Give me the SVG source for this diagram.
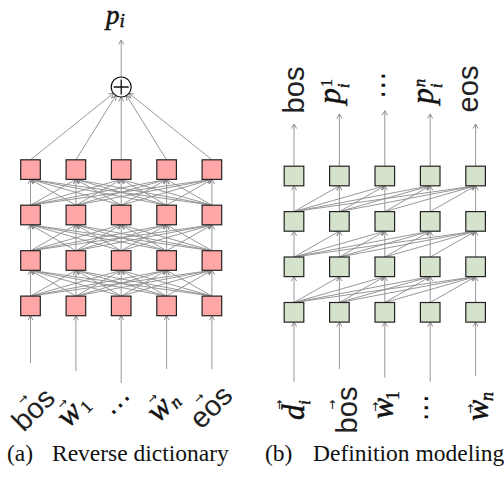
<svg xmlns="http://www.w3.org/2000/svg" width="504" height="481" viewBox="0 0 504 481">
<style>
.c{stroke:#8c8c8c;stroke-width:0.9;fill:none;marker-end:url(#ah)}
.bl{fill:#FFA6A6;stroke:#222;stroke-width:1.2}
.bg{fill:#D6E3CC;stroke:#222;stroke-width:1.2}
.sf{font-family:"Liberation Sans",Arial,sans-serif;fill:#222}
.mi{font-family:"Liberation Serif","Times New Roman",serif;font-style:italic;fill:#111;stroke:#111;stroke-width:0.5}
.mr{font-family:"Liberation Serif","Times New Roman",serif;fill:#111;stroke:#111;stroke-width:0.3}
.va{font-family:"DejaVu Sans",sans-serif;font-size:12px;fill:#111;text-anchor:middle}
.dt{font-family:"DejaVu Sans",sans-serif;font-size:28px;fill:#111;text-anchor:middle}
.cap{font-family:"Liberation Serif","Times New Roman",serif;font-size:23.5px;fill:#111}
</style>
<defs>
<marker id="ah" viewBox="-6 -4 7 8" refX="0" refY="0" markerWidth="7" markerHeight="8" orient="auto" markerUnits="userSpaceOnUse">
<path d="M-4.5,-2.6 L0,0 L-4.5,2.6" fill="none" stroke="#8c8c8c" stroke-width="1"/>
</marker>
</defs>

<g id="connectors">
<line class="c" x1="121.2" y1="77" x2="121.2" y2="40"/>
<line class="c" x1="30.5" y1="159.8" x2="113.4" y2="93.3"/>
<line class="c" x1="75.9" y1="159.8" x2="115.9" y2="95.5"/>
<line class="c" x1="121.2" y1="159.8" x2="121.2" y2="97"/>
<line class="c" x1="166.6" y1="159.8" x2="126.5" y2="95.5"/>
<line class="c" x1="211.9" y1="159.8" x2="129" y2="93.3"/>
<line class="c" x1="30.5" y1="296.1" x2="30.5" y2="270.3"/><line class="c" x1="30.5" y1="296.1" x2="75.9" y2="270.3"/><line class="c" x1="30.5" y1="296.1" x2="121.2" y2="270.3"/><line class="c" x1="30.5" y1="296.1" x2="166.6" y2="270.3"/><line class="c" x1="30.5" y1="296.1" x2="211.9" y2="270.3"/>
<line class="c" x1="75.9" y1="296.1" x2="30.5" y2="270.3"/><line class="c" x1="75.9" y1="296.1" x2="75.9" y2="270.3"/><line class="c" x1="75.9" y1="296.1" x2="121.2" y2="270.3"/><line class="c" x1="75.9" y1="296.1" x2="166.6" y2="270.3"/><line class="c" x1="75.9" y1="296.1" x2="211.9" y2="270.3"/>
<line class="c" x1="121.2" y1="296.1" x2="30.5" y2="270.3"/><line class="c" x1="121.2" y1="296.1" x2="75.9" y2="270.3"/><line class="c" x1="121.2" y1="296.1" x2="121.2" y2="270.3"/><line class="c" x1="121.2" y1="296.1" x2="166.6" y2="270.3"/><line class="c" x1="121.2" y1="296.1" x2="211.9" y2="270.3"/>
<line class="c" x1="166.6" y1="296.1" x2="30.5" y2="270.3"/><line class="c" x1="166.6" y1="296.1" x2="75.9" y2="270.3"/><line class="c" x1="166.6" y1="296.1" x2="121.2" y2="270.3"/><line class="c" x1="166.6" y1="296.1" x2="166.6" y2="270.3"/><line class="c" x1="166.6" y1="296.1" x2="211.9" y2="270.3"/>
<line class="c" x1="211.9" y1="296.1" x2="30.5" y2="270.3"/><line class="c" x1="211.9" y1="296.1" x2="75.9" y2="270.3"/><line class="c" x1="211.9" y1="296.1" x2="121.2" y2="270.3"/><line class="c" x1="211.9" y1="296.1" x2="166.6" y2="270.3"/><line class="c" x1="211.9" y1="296.1" x2="211.9" y2="270.3"/>
<line class="c" x1="30.5" y1="250.7" x2="30.5" y2="224.8"/><line class="c" x1="30.5" y1="250.7" x2="75.9" y2="224.8"/><line class="c" x1="30.5" y1="250.7" x2="121.2" y2="224.8"/><line class="c" x1="30.5" y1="250.7" x2="166.6" y2="224.8"/><line class="c" x1="30.5" y1="250.7" x2="211.9" y2="224.8"/>
<line class="c" x1="75.9" y1="250.7" x2="30.5" y2="224.8"/><line class="c" x1="75.9" y1="250.7" x2="75.9" y2="224.8"/><line class="c" x1="75.9" y1="250.7" x2="121.2" y2="224.8"/><line class="c" x1="75.9" y1="250.7" x2="166.6" y2="224.8"/><line class="c" x1="75.9" y1="250.7" x2="211.9" y2="224.8"/>
<line class="c" x1="121.2" y1="250.7" x2="30.5" y2="224.8"/><line class="c" x1="121.2" y1="250.7" x2="75.9" y2="224.8"/><line class="c" x1="121.2" y1="250.7" x2="121.2" y2="224.8"/><line class="c" x1="121.2" y1="250.7" x2="166.6" y2="224.8"/><line class="c" x1="121.2" y1="250.7" x2="211.9" y2="224.8"/>
<line class="c" x1="166.6" y1="250.7" x2="30.5" y2="224.8"/><line class="c" x1="166.6" y1="250.7" x2="75.9" y2="224.8"/><line class="c" x1="166.6" y1="250.7" x2="121.2" y2="224.8"/><line class="c" x1="166.6" y1="250.7" x2="166.6" y2="224.8"/><line class="c" x1="166.6" y1="250.7" x2="211.9" y2="224.8"/>
<line class="c" x1="211.9" y1="250.7" x2="30.5" y2="224.8"/><line class="c" x1="211.9" y1="250.7" x2="75.9" y2="224.8"/><line class="c" x1="211.9" y1="250.7" x2="121.2" y2="224.8"/><line class="c" x1="211.9" y1="250.7" x2="166.6" y2="224.8"/><line class="c" x1="211.9" y1="250.7" x2="211.9" y2="224.8"/>
<line class="c" x1="30.5" y1="205.2" x2="30.5" y2="179.4"/><line class="c" x1="30.5" y1="205.2" x2="75.9" y2="179.4"/><line class="c" x1="30.5" y1="205.2" x2="121.2" y2="179.4"/><line class="c" x1="30.5" y1="205.2" x2="166.6" y2="179.4"/><line class="c" x1="30.5" y1="205.2" x2="211.9" y2="179.4"/>
<line class="c" x1="75.9" y1="205.2" x2="30.5" y2="179.4"/><line class="c" x1="75.9" y1="205.2" x2="75.9" y2="179.4"/><line class="c" x1="75.9" y1="205.2" x2="121.2" y2="179.4"/><line class="c" x1="75.9" y1="205.2" x2="166.6" y2="179.4"/><line class="c" x1="75.9" y1="205.2" x2="211.9" y2="179.4"/>
<line class="c" x1="121.2" y1="205.2" x2="30.5" y2="179.4"/><line class="c" x1="121.2" y1="205.2" x2="75.9" y2="179.4"/><line class="c" x1="121.2" y1="205.2" x2="121.2" y2="179.4"/><line class="c" x1="121.2" y1="205.2" x2="166.6" y2="179.4"/><line class="c" x1="121.2" y1="205.2" x2="211.9" y2="179.4"/>
<line class="c" x1="166.6" y1="205.2" x2="30.5" y2="179.4"/><line class="c" x1="166.6" y1="205.2" x2="75.9" y2="179.4"/><line class="c" x1="166.6" y1="205.2" x2="121.2" y2="179.4"/><line class="c" x1="166.6" y1="205.2" x2="166.6" y2="179.4"/><line class="c" x1="166.6" y1="205.2" x2="211.9" y2="179.4"/>
<line class="c" x1="211.9" y1="205.2" x2="30.5" y2="179.4"/><line class="c" x1="211.9" y1="205.2" x2="75.9" y2="179.4"/><line class="c" x1="211.9" y1="205.2" x2="121.2" y2="179.4"/><line class="c" x1="211.9" y1="205.2" x2="166.6" y2="179.4"/><line class="c" x1="211.9" y1="205.2" x2="211.9" y2="179.4"/>
<line class="c" x1="30.5" y1="363" x2="30.5" y2="315.7"/>
<line class="c" x1="75.9" y1="371" x2="75.9" y2="315.7"/>
<line class="c" x1="121.2" y1="383" x2="121.2" y2="315.7"/>
<line class="c" x1="166.6" y1="369" x2="166.6" y2="315.7"/>
<line class="c" x1="211.9" y1="369" x2="211.9" y2="315.7"/>

<line class="c" x1="294" y1="166.2" x2="294" y2="124"/>
<line class="c" x1="339.4" y1="166.2" x2="339.4" y2="114"/>
<line class="c" x1="384.8" y1="166.2" x2="384.8" y2="110.7"/>
<line class="c" x1="430.2" y1="166.2" x2="430.2" y2="114"/>
<line class="c" x1="475.6" y1="166.2" x2="475.6" y2="124"/>
<line class="c" x1="294" y1="302.5" x2="294" y2="276.6"/><line class="c" x1="294" y1="302.5" x2="339.4" y2="276.6"/><line class="c" x1="294" y1="302.5" x2="384.8" y2="276.6"/><line class="c" x1="294" y1="302.5" x2="430.2" y2="276.6"/><line class="c" x1="294" y1="302.5" x2="475.6" y2="276.6"/>
<line class="c" x1="339.4" y1="302.5" x2="339.4" y2="276.6"/><line class="c" x1="339.4" y1="302.5" x2="384.8" y2="276.6"/><line class="c" x1="339.4" y1="302.5" x2="430.2" y2="276.6"/><line class="c" x1="339.4" y1="302.5" x2="475.6" y2="276.6"/>
<line class="c" x1="384.8" y1="302.5" x2="384.8" y2="276.6"/><line class="c" x1="384.8" y1="302.5" x2="430.2" y2="276.6"/><line class="c" x1="384.8" y1="302.5" x2="475.6" y2="276.6"/>
<line class="c" x1="430.2" y1="302.5" x2="430.2" y2="276.6"/><line class="c" x1="430.2" y1="302.5" x2="475.6" y2="276.6"/>
<line class="c" x1="475.6" y1="302.5" x2="475.6" y2="276.6"/>
<line class="c" x1="294" y1="257" x2="294" y2="231.2"/><line class="c" x1="294" y1="257" x2="339.4" y2="231.2"/><line class="c" x1="294" y1="257" x2="384.8" y2="231.2"/><line class="c" x1="294" y1="257" x2="430.2" y2="231.2"/><line class="c" x1="294" y1="257" x2="475.6" y2="231.2"/>
<line class="c" x1="339.4" y1="257" x2="339.4" y2="231.2"/><line class="c" x1="339.4" y1="257" x2="384.8" y2="231.2"/><line class="c" x1="339.4" y1="257" x2="430.2" y2="231.2"/><line class="c" x1="339.4" y1="257" x2="475.6" y2="231.2"/>
<line class="c" x1="384.8" y1="257" x2="384.8" y2="231.2"/><line class="c" x1="384.8" y1="257" x2="430.2" y2="231.2"/><line class="c" x1="384.8" y1="257" x2="475.6" y2="231.2"/>
<line class="c" x1="430.2" y1="257" x2="430.2" y2="231.2"/><line class="c" x1="430.2" y1="257" x2="475.6" y2="231.2"/>
<line class="c" x1="475.6" y1="257" x2="475.6" y2="231.2"/>
<line class="c" x1="294" y1="211.6" x2="294" y2="185.8"/><line class="c" x1="294" y1="211.6" x2="339.4" y2="185.8"/><line class="c" x1="294" y1="211.6" x2="384.8" y2="185.8"/><line class="c" x1="294" y1="211.6" x2="430.2" y2="185.8"/><line class="c" x1="294" y1="211.6" x2="475.6" y2="185.8"/>
<line class="c" x1="339.4" y1="211.6" x2="339.4" y2="185.8"/><line class="c" x1="339.4" y1="211.6" x2="384.8" y2="185.8"/><line class="c" x1="339.4" y1="211.6" x2="430.2" y2="185.8"/><line class="c" x1="339.4" y1="211.6" x2="475.6" y2="185.8"/>
<line class="c" x1="384.8" y1="211.6" x2="384.8" y2="185.8"/><line class="c" x1="384.8" y1="211.6" x2="430.2" y2="185.8"/><line class="c" x1="384.8" y1="211.6" x2="475.6" y2="185.8"/>
<line class="c" x1="430.2" y1="211.6" x2="430.2" y2="185.8"/><line class="c" x1="430.2" y1="211.6" x2="475.6" y2="185.8"/>
<line class="c" x1="475.6" y1="211.6" x2="475.6" y2="185.8"/>
<line class="c" x1="294" y1="381.7" x2="294" y2="322.1"/>
<line class="c" x1="339.4" y1="369" x2="339.4" y2="322.1"/>
<line class="c" x1="384.8" y1="377.7" x2="384.8" y2="322.1"/>
<line class="c" x1="430.2" y1="381.7" x2="430.2" y2="322.1"/>
<line class="c" x1="475.6" y1="375.7" x2="475.6" y2="322.1"/>
</g>

<g id="sum">
<circle cx="121.2" cy="87" r="10" fill="#fff" stroke="#111" stroke-width="1.2"/>
<path d="M113.7,87 H128.7 M121.2,79.5 V94.5" stroke="#111" stroke-width="1.3" fill="none"/>
</g>
<g id="L3-1"><rect class="bl" x="20.7" y="159.8" width="19.6" height="19.6"/></g>
<g id="L3-2"><rect class="bl" x="66.1" y="159.8" width="19.6" height="19.6"/></g>
<g id="L3-3"><rect class="bl" x="111.4" y="159.8" width="19.6" height="19.6"/></g>
<g id="L3-4"><rect class="bl" x="156.8" y="159.8" width="19.6" height="19.6"/></g>
<g id="L3-5"><rect class="bl" x="202.1" y="159.8" width="19.6" height="19.6"/></g>
<g id="L2-1"><rect class="bl" x="20.7" y="205.2" width="19.6" height="19.6"/></g>
<g id="L2-2"><rect class="bl" x="66.1" y="205.2" width="19.6" height="19.6"/></g>
<g id="L2-3"><rect class="bl" x="111.4" y="205.2" width="19.6" height="19.6"/></g>
<g id="L2-4"><rect class="bl" x="156.8" y="205.2" width="19.6" height="19.6"/></g>
<g id="L2-5"><rect class="bl" x="202.1" y="205.2" width="19.6" height="19.6"/></g>
<g id="L1-1"><rect class="bl" x="20.7" y="250.7" width="19.6" height="19.6"/></g>
<g id="L1-2"><rect class="bl" x="66.1" y="250.7" width="19.6" height="19.6"/></g>
<g id="L1-3"><rect class="bl" x="111.4" y="250.7" width="19.6" height="19.6"/></g>
<g id="L1-4"><rect class="bl" x="156.8" y="250.7" width="19.6" height="19.6"/></g>
<g id="L1-5"><rect class="bl" x="202.1" y="250.7" width="19.6" height="19.6"/></g>
<g id="L0-1"><rect class="bl" x="20.7" y="296.1" width="19.6" height="19.6"/></g>
<g id="L0-2"><rect class="bl" x="66.1" y="296.1" width="19.6" height="19.6"/></g>
<g id="L0-3"><rect class="bl" x="111.4" y="296.1" width="19.6" height="19.6"/></g>
<g id="L0-4"><rect class="bl" x="156.8" y="296.1" width="19.6" height="19.6"/></g>
<g id="L0-5"><rect class="bl" x="202.1" y="296.1" width="19.6" height="19.6"/></g>

<g id="R3-1"><rect class="bg" x="284.2" y="166.2" width="19.6" height="19.6"/></g>
<g id="R3-2"><rect class="bg" x="329.6" y="166.2" width="19.6" height="19.6"/></g>
<g id="R3-3"><rect class="bg" x="375" y="166.2" width="19.6" height="19.6"/></g>
<g id="R3-4"><rect class="bg" x="420.4" y="166.2" width="19.6" height="19.6"/></g>
<g id="R3-5"><rect class="bg" x="465.8" y="166.2" width="19.6" height="19.6"/></g>
<g id="R2-1"><rect class="bg" x="284.2" y="211.6" width="19.6" height="19.6"/></g>
<g id="R2-2"><rect class="bg" x="329.6" y="211.6" width="19.6" height="19.6"/></g>
<g id="R2-3"><rect class="bg" x="375" y="211.6" width="19.6" height="19.6"/></g>
<g id="R2-4"><rect class="bg" x="420.4" y="211.6" width="19.6" height="19.6"/></g>
<g id="R2-5"><rect class="bg" x="465.8" y="211.6" width="19.6" height="19.6"/></g>
<g id="R1-1"><rect class="bg" x="284.2" y="257" width="19.6" height="19.6"/></g>
<g id="R1-2"><rect class="bg" x="329.6" y="257" width="19.6" height="19.6"/></g>
<g id="R1-3"><rect class="bg" x="375" y="257" width="19.6" height="19.6"/></g>
<g id="R1-4"><rect class="bg" x="420.4" y="257" width="19.6" height="19.6"/></g>
<g id="R1-5"><rect class="bg" x="465.8" y="257" width="19.6" height="19.6"/></g>
<g id="R0-1"><rect class="bg" x="284.2" y="302.5" width="19.6" height="19.6"/></g>
<g id="R0-2"><rect class="bg" x="329.6" y="302.5" width="19.6" height="19.6"/></g>
<g id="R0-3"><rect class="bg" x="375" y="302.5" width="19.6" height="19.6"/></g>
<g id="R0-4"><rect class="bg" x="420.4" y="302.5" width="19.6" height="19.6"/></g>
<g id="R0-5"><rect class="bg" x="465.8" y="302.5" width="19.6" height="19.6"/></g>

<g id="lbl-pi"><text class="mi" x="106" y="24" font-size="27">p<tspan font-size="19" dy="3">i</tspan></text></g>
<g id="lbl-l-bos" transform="translate(35,411) rotate(-45)"><text class="sf" x="0" y="7.5" font-size="29" text-anchor="middle">bos</text><text class="va" x="0" y="-13">→</text></g>
<g id="lbl-l-w1" transform="translate(71,416) rotate(-45)"><text class="mi" x="0" y="7" font-size="32" text-anchor="middle">w</text><text class="mr" x="13" y="10" font-size="18">1</text><text class="va" x="3" y="-11">→</text></g>
<g id="lbl-l-dots" transform="translate(121,406) rotate(-45)"><text class="dt" x="0" y="8">⋯</text></g>
<g id="lbl-l-wn" transform="translate(161,411) rotate(-45)"><text class="mi" x="0" y="7" font-size="32" text-anchor="middle">w</text><text class="mi" x="12" y="10" font-size="18">n</text><text class="va" x="3" y="-11">→</text></g>
<g id="lbl-l-eos" transform="translate(212.5,408.5) rotate(-45)"><text class="sf" x="0" y="7.5" font-size="29" text-anchor="middle">eos</text><text class="va" x="-2" y="-13">→</text></g>

<g id="lbl-r-bos" transform="translate(304,90) rotate(-90)"><text class="sf" x="0" y="0" font-size="29" text-anchor="middle">bos</text></g>
<g id="lbl-r-p1" transform="translate(340,104) rotate(-90)"><text class="mi" x="0" y="0" font-size="32">p</text><text class="mr" x="17" y="-8" font-size="16">1</text><text class="mi" x="16" y="9" font-size="16">i</text></g>
<g id="lbl-r-dots-top" transform="translate(384,85) rotate(-90)"><text class="dt" x="0" y="8">⋯</text></g>
<g id="lbl-r-pn" transform="translate(433,104) rotate(-90)"><text class="mi" x="0" y="0" font-size="32">p</text><text class="mi" x="17" y="-8" font-size="16">n</text><text class="mi" x="16" y="9" font-size="16">i</text></g>
<g id="lbl-r-eos" transform="translate(478,89) rotate(-90)"><text class="sf" x="0" y="0" font-size="29" text-anchor="middle">eos</text></g>

<g id="lbl-r-d" transform="translate(304,420) rotate(-90)"><text class="mi" x="0" y="0" font-size="31">d</text><text class="mi" x="15" y="6" font-size="17">i</text><text class="va" x="15" y="-21">→</text></g>
<g id="lbl-r-bos2" transform="translate(357,410) rotate(-90)"><text class="sf" x="0" y="0" font-size="29" text-anchor="middle">bos</text><text class="va" x="5" y="-21">→</text></g>
<g id="lbl-r-w1" transform="translate(393,419) rotate(-90)"><text class="mi" x="0" y="0" font-size="32">w</text><text class="mr" x="19" y="6" font-size="18">1</text><text class="va" x="12" y="-14">→</text></g>
<g id="lbl-r-dots-bot" transform="translate(427,407.5) rotate(-90)"><text class="dt" x="0" y="8">⋯</text></g>
<g id="lbl-r-wn" transform="translate(488,421) rotate(-90)"><text class="mi" x="0" y="0" font-size="32">w</text><text class="mi" x="20" y="5" font-size="18">n</text><text class="va" x="12" y="-14">→</text></g>

<g id="captions">
<text class="cap" x="7" y="461">(a)</text>
<text class="cap" x="52" y="461">Reverse dictionary</text>
<text class="cap" x="265" y="461">(b)</text>
<text class="cap" x="313" y="461">Definition modeling</text>
</g>
</svg>
